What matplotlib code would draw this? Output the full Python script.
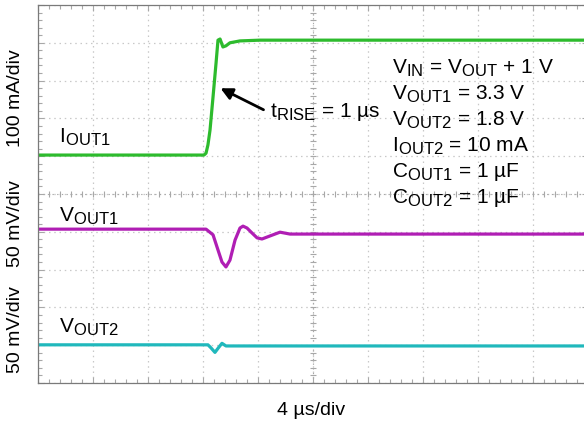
import numpy as np
import matplotlib
matplotlib.use("Agg")
import matplotlib.pyplot as plt
import matplotlib._mathtext as _mt

_mt.SHRINK_FACTOR = 0.8

plt.rcParams['font.family'] = ['Liberation Sans', 'DejaVu Sans']
plt.rcParams['mathtext.fontset'] = 'custom'
plt.rcParams['mathtext.rm'] = 'Liberation Sans'
plt.rcParams['mathtext.it'] = 'Liberation Sans'

# ---- data (time in us, 4 us/div; amplitude in screen divisions) ----
iout1_t = [0, 12.07, 12.22, 12.36, 12.51, 12.73, 12.95, 13.09, 13.24, 13.45, 13.67, 13.96, 14.69, 16.15, 40]
iout1_d = [6.03, 6.03, 6.08, 6.30, 6.69, 7.57, 8.47, 9.07, 9.10, 8.89, 8.92, 9.00, 9.05, 9.07, 9.07]

vout1_t = [0, 12.22, 12.73, 13.09, 13.38, 13.67, 13.96, 14.33, 14.69, 14.91, 15.20, 15.56,
           15.93, 16.29, 16.87, 17.60, 18.33, 20.51, 40]
vout1_d = [4.07, 4.07, 3.92, 3.52, 3.20, 3.07, 3.25, 3.78, 4.10, 4.15, 4.10, 3.97,
           3.84, 3.81, 3.89, 3.99, 3.94, 3.94, 3.94]

vout2_t = [0, 12.36, 12.58, 12.87, 13.16, 13.38, 13.67, 40]
vout2_d = [1.01, 1.01, 0.93, 0.81, 0.95, 1.05, 0.98, 0.98]

conditions = [r'$\mathregular{V_{IN}}$ = $\mathregular{V_{OUT}}$ + 1 V',
              r'$\mathregular{V_{OUT1}}$ = 3.3 V',
              r'$\mathregular{V_{OUT2}}$ = 1.8 V',
              r'$\mathregular{I_{OUT2}}$ = 10 mA',
              r'$\mathregular{C_{OUT1}}$ = 1 µF',
              r'$\mathregular{C_{OUT2}}$ = 1 µF']

W, H = 584, 423
fig = plt.figure(figsize=(W / 100, H / 100), dpi=100)
ax = fig.add_axes([38 / W, 40 / H, 550 / W, 378 / H])
ax.set_xlim(0, 40)
ax.set_ylim(0, 10)

gc = '#a8a8a8'
ax.set_xticks(np.arange(0, 40.1, 4))
ax.set_xticks(np.arange(0, 40.1, 0.8), minor=True)
ax.set_yticks(np.arange(0, 10.1, 1))
ax.set_yticks(np.arange(0, 10.1, 0.2), minor=True)
ax.tick_params(which='both', direction='in', top=True, right=True,
               labelbottom=False, labelleft=False, color=gc, width=0.8)
ax.tick_params(which='major', length=4)
ax.tick_params(which='minor', length=3)
ax.grid(which='major', color='#c8c8c8', linestyle=(0, (1.2, 3)), lw=0.9)
for s in ax.spines.values():
    s.set_color('#7a7a7a')
    s.set_linewidth(0.9)

# center crosshair with minor ticks
ax.axvline(20, color=gc, lw=0.8, ls=(0, (1.2, 3)))
ax.axhline(5, color=gc, lw=0.8, ls=(0, (1.2, 3)))
ax.plot(np.full(51, 20.0), np.arange(0, 10.01, 0.2), ls='none', marker='_', ms=5, mew=0.8, color=gc)
ax.plot(np.arange(0, 40.01, 0.8), np.full(51, 5.0), ls='none', marker='|', ms=5, mew=0.8, color=gc)

ax.plot(iout1_t, iout1_d, color='#2dbb2d', lw=2.3, solid_joinstyle='round')
ax.plot(vout1_t, vout1_d, color='#b01eb4', lw=2.3, solid_joinstyle='round')
ax.plot(vout2_t, vout2_d, color='#20b8bc', lw=2.3, solid_joinstyle='round')

fs = 14
fa = 15

def ft(x, y, s, size=fs, **kw):
    fig.text(x / W, 1 - y / H, s, fontsize=size, **kw)

ft(59, 143, r'$\mathregular{I_{OUT1}}$', size=fa, va='baseline')
ft(59, 222, r'$\mathregular{V_{OUT1}}$', size=fa, va='baseline')
ft(59, 333, r'$\mathregular{V_{OUT2}}$', size=fa, va='baseline')

ft(16, 98, '100 mA/div', rotation=90, ha='center', va='center')
ft(16, 224, '50 mV/div', rotation=90, ha='center', va='center')
ft(16, 330, '50 mV/div', rotation=90, ha='center', va='center')
ft(311, 410, '4 µs/div', ha='center', va='center')

for i, c in enumerate(conditions):
    ft(392, 74 + i * 25.8, c, size=fa, va='baseline')

ft(270, 117, r'$\mathregular{t_{RISE}}$ = 1 µs', size=fa, va='baseline')
ax.annotate('', xy=(218 / W, 1 - 87 / H), xycoords='figure fraction',
            xytext=(266 / W, 1 - 111 / H), textcoords='figure fraction',
            arrowprops=dict(arrowstyle='-|>,head_length=0.7,head_width=0.35',
                            color='black', lw=2))

fig.savefig('out.png', dpi=100)
